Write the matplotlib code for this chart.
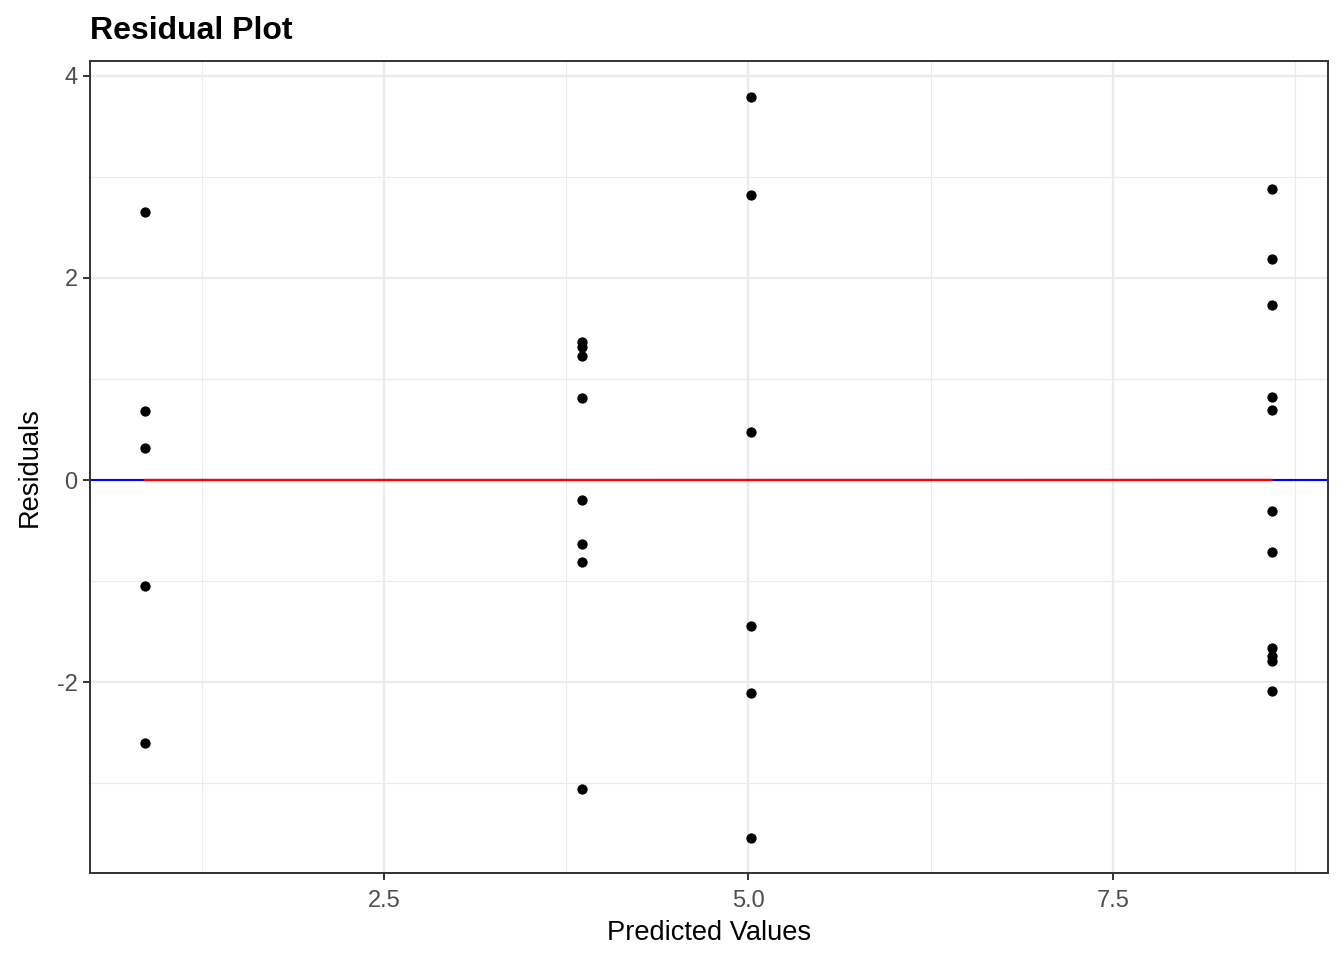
import matplotlib.pyplot as plt
import numpy as np

plt.rcParams['font.family'] = ['Liberation Sans', 'DejaVu Sans']

# 拟合值（四组）与对应的残差
fitted_groups = [0.861, 3.858, 5.017, 8.59]
residual_groups = [
    [2.653, 0.683, 0.317, -1.05, -2.604],
    [1.366, 1.317, 1.228, 0.812, -0.198, -0.634, -0.812, -3.059],
    [3.792, 2.822, 0.475, -1.446, -2.109, -3.545],
    [2.881, 2.188, 1.733, 0.822, 0.693, -0.307, -0.713, -1.663, -1.743, -1.792, -2.089],
]

predicted = np.concatenate([[f] * len(r) for f, r in zip(fitted_groups, residual_groups)])
residuals = np.concatenate(residual_groups)

x_ticks = [2.5, 5.0, 7.5]
x_tick_labels = ['2.5', '5.0', '7.5']
y_ticks = [-2, 0, 2, 4]
y_tick_labels = ['-2', '0', '2', '4']

fig = plt.figure(figsize=(13.44, 9.6), dpi=100)
ax = fig.add_axes([0.067, 0.0906, 0.921, 0.846])

ax.set_xlim(0.484, 8.975)
ax.set_ylim(-3.89, 4.149)

# 网格（theme_bw 风格）
ax.set_xticks(x_ticks)
ax.set_xticklabels(x_tick_labels)
ax.set_yticks(y_ticks)
ax.set_yticklabels(y_tick_labels)
ax.set_xticks([1.25, 3.75, 6.25, 8.75], minor=True)
ax.set_yticks([-3, -1, 1, 3], minor=True)
ax.grid(True, which='major', color='#EBEBEB', linewidth=1.6, zorder=0)
ax.grid(True, which='minor', color='#EBEBEB', linewidth=0.8, zorder=0)
ax.set_axisbelow(True)

# 零参考线（蓝）与线性拟合线（红，仅覆盖数据范围）
ax.axhline(0, color='blue', linewidth=1.5, zorder=2)
coef = np.polyfit(predicted, residuals, 1)
xs = np.array([predicted.min(), predicted.max()])
fit = np.polyval(coef, xs)
ax.plot(xs, fit, color='red', linewidth=1.6, zorder=3)

ax.scatter(predicted, residuals, s=55, color='black', zorder=4, linewidths=0)

for sp in ax.spines.values():
    sp.set_color('#333333')
    sp.set_linewidth(1.4)

ax.tick_params(which='major', length=5, width=1.4, color='#333333',
               labelsize=17, labelcolor='#4D4D4D', pad=4)
ax.tick_params(axis='x', which='major', pad=7)
ax.tick_params(which='minor', length=0)

ax.set_xlabel('Predicted Values', fontsize=19.6, color='black', labelpad=6)
ax.set_ylabel('Residuals', fontsize=19.6, color='black', labelpad=10)
ax.set_title('Residual Plot', loc='left', fontsize=23, fontweight='bold', pad=16)

fig.savefig('out.png', dpi=100)
